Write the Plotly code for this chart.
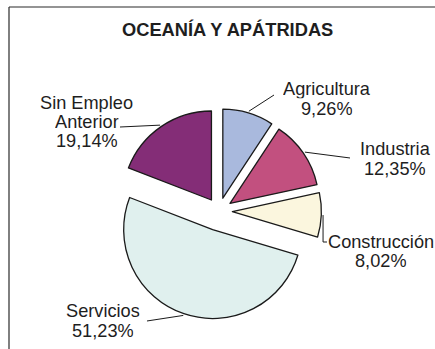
import math
import plotly.graph_objects as go

# Employment sector shares (%), Oceanía y apátridas
categories = ["Agricultura", "Industria", "Construcción", "Servicios", "Sin Empleo Anterior"]
shares = [9.26, 12.35, 8.02, 51.23, 19.14]
title_text = "OCEANÍA Y APÁTRIDAS"

# Slice styling
colors = ["#A9B9DD", "#C2507F", "#FBF6DE", "#E0F0EE", "#842D77"]
pulls = [0.15, 0.15, 0.15, 0.22, 0.15]
line_breaks = {"Sin Empleo Anterior": ["Sin Empleo", "Anterior"]}

W, H = 435, 349
CX, CY, R = 219, 211, 89          # pie centre and radius in pixels
FONT = "Liberation Sans, Arial, Helvetica, sans-serif"
TEXT_COLOR = "#1e1e1e"
LABEL_SIZE = 18.2
TITLE_SIZE = 18.3
LINE_PITCH = 19.3

# centre of the first text line of each label, in pixels
label_anchor = {
    "Agricultura": (327, 88.8),
    "Industria": (395, 148.8),
    "Construcción": (381, 241.2),
    "Servicios": (102.5, 310.8),
    "Sin Empleo Anterior": (86.5, 102.2),
}
# leader line points after the one on the slice edge, in pixels
leader_tail = {
    "Agricultura": [(274, 95)],
    "Industria": [(350, 158)],
    "Construcción": [None, (327, 242)],
    "Servicios": [(147, 321)],
    "Sin Empleo Anterior": [(120, 127)],
}


def px(x):
    return x / W


def py(y):
    return 1 - y / H


half = R * (1 + max(pulls))
domain_x = [px(CX - half), px(CX + half)]
domain_y = [py(CY + half), py(CY - half)]

fig = go.Figure(
    go.Pie(
        labels=categories,
        values=shares,
        sort=False,
        direction="clockwise",
        rotation=0,
        pull=pulls,
        marker=dict(colors=colors, line=dict(color="#1a1a1a", width=1.3)),
        textinfo="none",
        hoverinfo="label+percent",
        domain=dict(x=domain_x, y=domain_y),
        showlegend=False,
    )
)

annotations = [
    dict(
        text="<b>" + title_text + "</b>",
        x=px(227), y=py(29), xref="paper", yref="paper",
        xanchor="center", yanchor="middle", showarrow=False,
        font=dict(family=FONT, size=TITLE_SIZE, color=TEXT_COLOR),
    )
]
shapes = [
    # chart frame (top and left edges)
    dict(type="line", xref="paper", yref="paper",
         x0=px(9), y0=py(7), x1=1, y1=py(7),
         line=dict(color="#2a2a2a", width=1.2)),
    dict(type="line", xref="paper", yref="paper",
         x0=px(9), y0=py(7), x1=px(9), y1=0,
         line=dict(color="#2a2a2a", width=1.2)),
]

total = sum(shares)
start = 0.0
for name, value, pull in zip(categories, shares, pulls):
    sweep = value / total * 360
    mid = math.radians(start + sweep / 2)
    start += sweep
    # pulled slice centre, then a point just outside its arc at mid-angle
    pcx = CX + pull * R * math.sin(mid)
    pcy = CY - pull * R * math.cos(mid)
    ex = pcx + 1.02 * R * math.sin(mid)
    ey = pcy - 1.02 * R * math.cos(mid)
    pts = [(ex, ey)]
    for p in leader_tail[name]:
        if p is None:
            continue
        if name == "Construcción" and len(pts) == 1:
            pts.append((ex, p[1]))
        pts.append(p)
    path = "M " + " L ".join(f"{px(x):.5f},{py(y):.5f}" for x, y in pts)
    shapes.append(dict(type="path", xref="paper", yref="paper", path=path,
                       line=dict(color="#1a1a1a", width=1)))

    lines = line_breaks.get(name, [name]) + [f"{value:.2f}".replace(".", ",") + "%"]
    ax, ay = label_anchor[name]
    for k, txt in enumerate(lines):
        annotations.append(dict(
            text=txt, x=px(ax), y=py(ay + k * LINE_PITCH),
            xref="paper", yref="paper", xanchor="center", yanchor="middle",
            height=LINE_PITCH, valign="middle", showarrow=False,
            font=dict(family=FONT, size=LABEL_SIZE, color=TEXT_COLOR),
        ))

fig.update_layout(
    width=W, height=H, autosize=False,
    margin=dict(l=0, r=0, t=0, b=0),
    paper_bgcolor="white", plot_bgcolor="white",
    annotations=annotations, shapes=shapes,
)

fig.write_html("out.html")
